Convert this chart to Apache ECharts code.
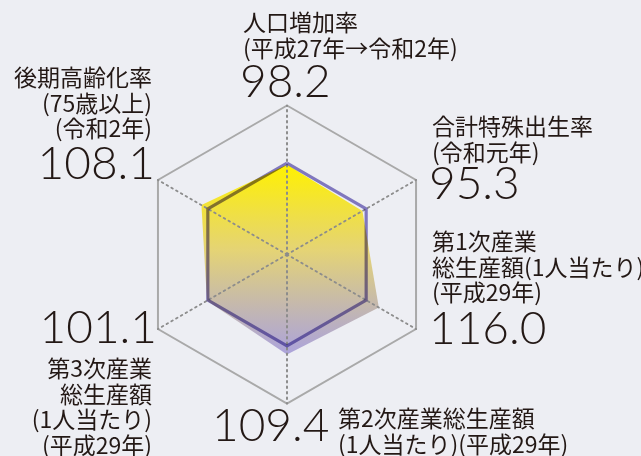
<!DOCTYPE html>
<html>
<head>
<meta charset="utf-8">
<script src="https://cdn.jsdelivr.net/npm/echarts@6/dist/echarts.min.js"></script>
<style>
html,body{margin:0;padding:0;background:#EDEEF3;}
#c{width:641px;height:456px;}
</style>
</head>
<body>
<div id="c"></div>
<script>
// ---- data ----
const indicatorNames = ['人口増加率', '後期高齢化率', '第3次産業総生産額', '第2次産業総生産額', '第1次産業総生産額', '合計特殊出生率'];
const areaValues = [98.2, 108.1, 101.1, 109.4, 116.0, 95.3];
const baselineValues = [100, 100, 100, 100, 100, 100];
const nameLines = [
  ['人口増加率', '(平成27年→令和2年)'],
  ['後期高齢化率', '(75歳以上)', '(令和2年)'],
  ['第3次産業', '総生産額', '(1人当たり)', '(平成29年)'],
  ['第2次産業総生産額', '(1人当たり)(平成29年)'],
  ['第1次産業', '総生産額(1人当たり)', '(平成29年)'],
  ['合計特殊出生率', '(令和元年)']
];
const valueLabels = areaValues.map(v => v.toFixed(1));

// ---- layout (positions of label blocks) ----
const layout = [
  {nx: 243, ny: 10,  na: 'left',  vx: 240, vy: 59,  va: 'left'},
  {nx: 152, ny: 65,  na: 'right', vx: 155, vy: 141, va: 'right'},
  {nx: 152, ny: 356, na: 'right', vx: 157, vy: 305, va: 'right'},
  {nx: 338, ny: 406, na: 'left',  vx: 212, vy: 403, va: 'left'},
  {nx: 432, ny: 114, na: 'left',  vx: 429, vy: 161, va: 'left'},
  {nx: 432, ny: 229, na: 'left',  vx: 429, vy: 306, va: 'left'}
];
// reorder layout to match indicator order (top, upper-left, lower-left, bottom, lower-right, upper-right)
const layoutOrdered = [layout[0], layout[1], layout[2], layout[3], layout[5], layout[4]];
const MAXV = 163;

const chart = echarts.init(document.getElementById('c'));
const graphics = [];
nameLines.forEach((lines, i) => {
  const L = layoutOrdered[i];
  graphics.push({
    type: 'text', x: L.nx, y: L.ny, z: 10,
    style: {
      text: lines.join('\n'), textAlign: L.na, textVerticalAlign: 'top',
      font: '23px "Noto Sans CJK JP"', lineHeight: 25.5, fill: '#231815'
    }
  });
  graphics.push({
    type: 'text', x: L.vx, y: L.vy, z: 10,
    style: {
      text: valueLabels[i], textAlign: L.va, textVerticalAlign: 'top',
      font: '300 46px Lato', fill: '#231815'
    }
  });
});

chart.setOption({
  backgroundColor: '#EDEEF3',
  animation: false,
  radar: {
    center: [287, 254.5],
    radius: 149,
    shape: 'polygon',
    splitNumber: 1,
    startAngle: 90,
    z: 3,
    indicator: indicatorNames.map(n => ({name: n, max: MAXV, min: 0})),
    axisName: {show: false},
    axisLine: {lineStyle: {color: '#8c8c8c', width: 2, type: [1.5, 4]}},
    splitLine: {lineStyle: {color: '#a9a9a9', width: 2}},
    splitArea: {show: false},
    axisTick: {show: false},
    axisLabel: {show: false}
  },
  graphic: graphics,
  series: [
    {
      type: 'radar', z: 2, symbol: 'none',
      data: [{
        value: areaValues,
        lineStyle: {width: 0, opacity: 0},
        areaStyle: {
          opacity: 1,
          color: new echarts.graphic.LinearGradient(0, 0, 0, 1, [
            {offset: 0, color: 'rgba(255,241,0,1)'},
            {offset: 0.45, color: 'rgba(228,210,110,0.95)'},
            {offset: 1, color: 'rgba(160,150,215,0.85)'}
          ])
        }
      }]
    },
    {
      type: 'radar', z: 4, symbol: 'none', blendMode: 'multiply',
      data: [{
        value: baselineValues,
        lineStyle: {width: 3.2, color: '#8A80C8'},
        areaStyle: {opacity: 0}
      }]
    }
  ]
});
</script>
</body>
</html>
